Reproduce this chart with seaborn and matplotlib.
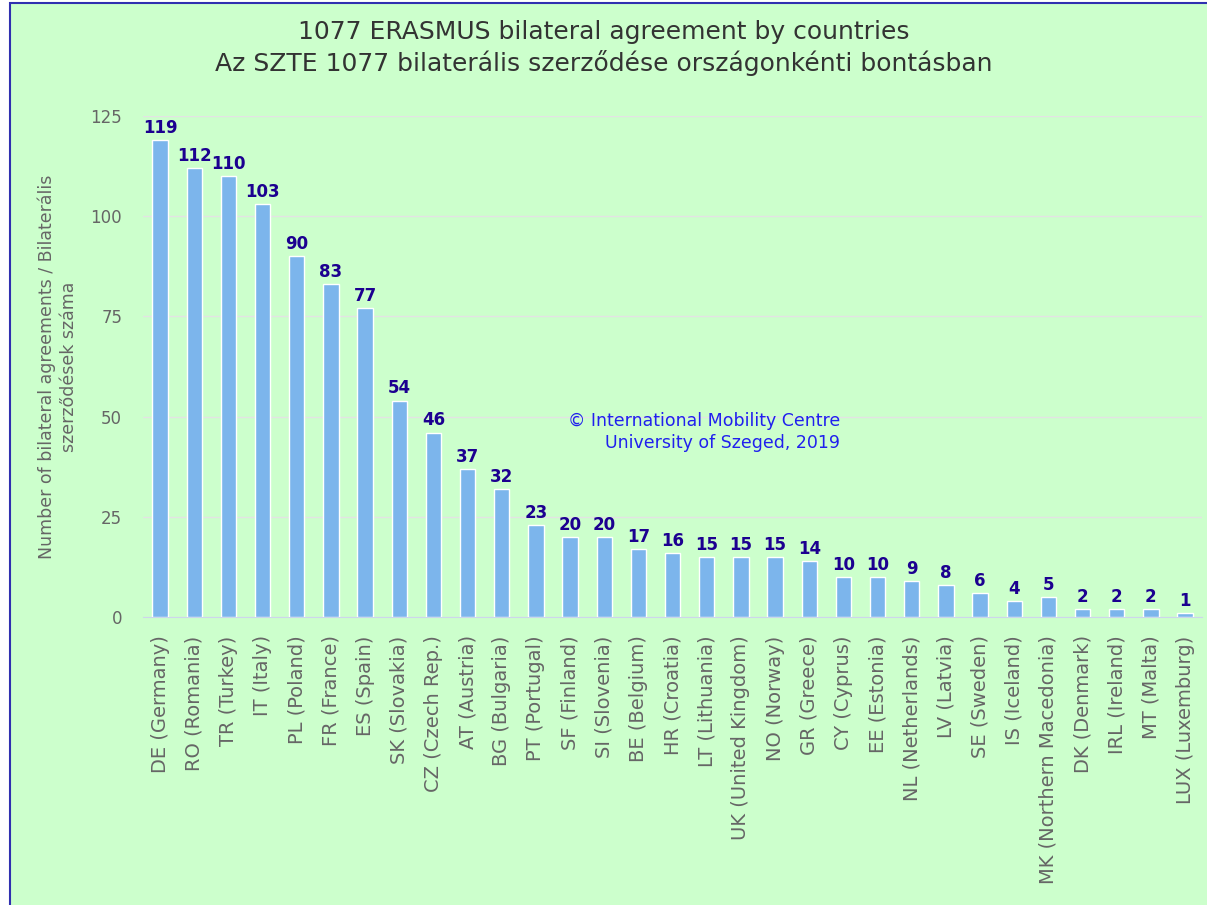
import matplotlib
matplotlib.use("Agg")
import matplotlib.pyplot as plt
from matplotlib.patches import Rectangle
import seaborn as sns
import pandas as pd

# Data
countries = [
    "DE (Germany)", "RO (Romania)", "TR (Turkey)", "IT (Italy)", "PL (Poland)",
    "FR (France)", "ES (Spain)", "SK (Slovakia)", "CZ (Czech Rep.)", "AT (Austria)",
    "BG (Bulgaria)", "PT (Portugal)", "SF (Finland)", "SI (Slovenia)", "BE (Belgium)",
    "HR (Croatia)", "LT (Lithuania)", "UK (United Kingdom)", "NO (Norway)", "GR (Greece)",
    "CY (Cyprus)", "EE (Estonia)", "NL (Netherlands)", "LV (Latvia)", "SE (Sweden)",
    "IS (Iceland)", "MK (Northern Macedonia)", "DK (Denmark)", "IRL (Ireland)",
    "MT (Malta)", "LUX (Luxemburg)",
]
agreements = [119, 112, 110, 103, 90, 83, 77, 54, 46, 37, 32, 23, 20, 20, 17,
              16, 15, 15, 15, 14, 10, 10, 9, 8, 6, 4, 5, 2, 2, 2, 1]
y_ticks = [0, 25, 50, 75, 100, 125]

df = pd.DataFrame({"country": countries, "n": agreements})

sns.set_style("white")
plt.rcParams["font.family"] = ["DejaVu Sans"]

fig = plt.figure(figsize=(12.07, 9.05), dpi=100, facecolor="white")
# green panel with blue frame on the left and top
fig.patches.append(Rectangle((10 / 1207, -0.05), 1.2, 1.05 - 3 / 905,
                             transform=fig.transFigure, facecolor="#ccffcc",
                             edgecolor="#3030b0", linewidth=1.5, zorder=-10))

ax = fig.add_axes([0.1185, 0.318, 0.8775, 0.554])
ax.set_zorder(1)
ax.set_facecolor("none")
sns.barplot(data=df, x="country", y="n", color="#7cb5ec", saturation=1,
            width=0.45, edgecolor="white", linewidth=1, ax=ax, zorder=3)

for i, v in enumerate(agreements):
    ax.text(i, v + 0.8, str(v), ha="center", va="bottom", fontsize=12,
            fontweight="bold", color="#1c0090", zorder=4)

ax.set_ylim(0, 125)
ax.set_xlim(-0.5, len(countries) - 0.5)
ax.set_yticks(y_ticks)
ax.yaxis.grid(True, color="#e3e3e3", linewidth=1, zorder=0)
ax.set_axisbelow(True)
for s in ["top", "right", "left"]:
    ax.spines[s].set_visible(False)
ax.spines["bottom"].set_color("#ccd6eb")
ax.tick_params(axis="y", length=0, labelsize=12, colors="#666666", pad=15)
ax.tick_params(axis="x", length=0, labelsize=14, colors="#666666", pad=13,
               labelrotation=90)
ax.set_xlabel("")
ax.set_ylabel("Number of bilateral agreements / Bilaterális\nszerződések száma",
              fontsize=12.5, color="#666666", labelpad=9, linespacing=1.3)

fig.text(0.5, 0.965, "1077 ERASMUS bilateral agreement by countries",
         ha="center", va="center", fontsize=18, color="#333333")
fig.text(0.5, 0.930, "Az SZTE 1077 bilaterális szerződése országonkénti bontásban",
         ha="center", va="center", fontsize=18, color="#333333")

fig.text(840 / 1207, 1 - 421 / 905, "© International Mobility Centre",
         ha="right", va="center", fontsize=12.5, color="#2020ee")
fig.text(840 / 1207, 1 - 443 / 905, "University of Szeged, 2019",
         ha="right", va="center", fontsize=12.5, color="#2020ee")

fig.savefig("out.png", dpi=100, facecolor=fig.get_facecolor())
